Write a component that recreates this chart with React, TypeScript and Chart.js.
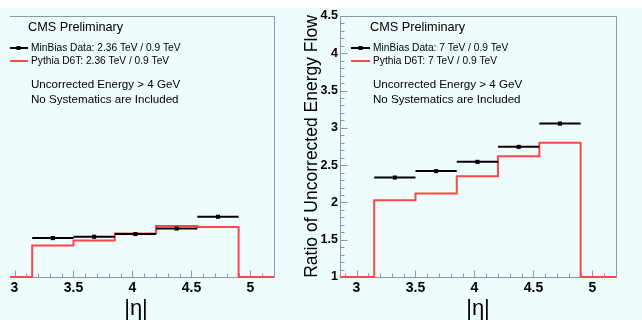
import React, { useEffect, useRef } from 'react';
import { Chart, registerables } from 'chart.js';

Chart.register(...registerables);

// ---------------- data ----------------
const binEdges = [3.15, 3.5, 3.85, 4.2, 4.55, 4.9];
const binCenters = [3.325, 3.675, 4.025, 4.375, 4.725];
const xTicks = [3, 3.5, 4, 4.5, 5];
const xTickLabels = ['3', '3.5', '4', '4.5', '5'];
const yTicks = [1, 1.5, 2, 2.5, 3, 3.5, 4, 4.5];
const yTickLabels = ['1', '1.5', '2', '2.5', '3', '3.5', '4', '4.5'];

const data236 = [1.522, 1.54, 1.576, 1.651, 1.808];
const pythia236 = [1.423, 1.49, 1.584, 1.683, 1.67];
const data7 = [2.334, 2.42, 2.544, 2.745, 3.057];
const pythia7 = [2.03, 2.12, 2.35, 2.62, 2.8];

const headerText = 'CMS Preliminary';
const legend236 = ['MinBias Data: 2.36 TeV / 0.9 TeV', 'Pythia D6T: 2.36 TeV / 0.9 TeV'];
const legend7 = ['MinBias Data: 7 TeV / 0.9 TeV', 'Pythia D6T: 7 TeV / 0.9 TeV'];
const noteLines = ['Uncorrected Energy > 4 GeV', 'No Systematics are Included'];
const xTitle = '|η|';
const yTitle = 'Ratio of Uncorrected Energy Flow';

const X_MIN = 2.86;
const X_MAX = 5.2;
const Y_MIN = 1;
const Y_MAX = 4.5;

// ---------------- style ----------------
const FONT = '"Liberation Sans", Arial, Helvetica, sans-serif';
const BG = '#eefcfd';
const FRAME = '#9494a4';
const RED = '#ff4646';
const BLACK = '#000000';

const framePlugin = {
  id: 'rootFrame',
  beforeDatasetsDraw(chart: any) {
    const { ctx, chartArea: a, scales } = chart;
    const x = scales.x;
    const y = scales.y;
    ctx.save();
    ctx.strokeStyle = FRAME;
    ctx.lineWidth = 1;
    const l = Math.round(a.left) + 0.5;
    const t = Math.round(a.top) + 0.5;
    const r = Math.round(a.right) + 0.5;
    const b = Math.round(a.bottom) + 0.5;
    ctx.beginPath();
    ctx.moveTo(l, b);
    ctx.lineTo(l, t);
    ctx.lineTo(r, t);
    ctx.lineTo(r, b);
    ctx.lineTo(l, b);
    for (let i = Math.ceil(X_MIN * 10 - 1e-6); i <= Math.floor(X_MAX * 10 + 1e-6); i++) {
      const px = Math.round(x.getPixelForValue(i / 10)) + 0.5;
      const len = i % 5 === 0 ? 7 : 4;
      ctx.moveTo(px, b);
      ctx.lineTo(px, b - len);
    }
    for (let i = Math.round(Y_MIN * 10); i <= Math.round(Y_MAX * 10); i++) {
      const py = Math.round(y.getPixelForValue(i / 10)) + 0.5;
      const len = i % 5 === 0 ? 7 : 4;
      ctx.moveTo(l, py);
      ctx.lineTo(l + len, py);
    }
    ctx.stroke();
    ctx.restore();
  },
};

const textPlugin = {
  id: 'rootText',
  afterDatasetsDraw(chart: any) {
    const opts = chart.options.plugins.rootText;
    if (!opts) return;
    const { ctx, chartArea: a } = chart;
    const L = a.left;
    const T = a.top;
    ctx.save();
    ctx.fillStyle = BLACK;
    ctx.textBaseline = 'middle';
    ctx.textAlign = 'left';
    ctx.font = `12.7px ${FONT}`;
    ctx.fillText(headerText, L + 30, T + 11.5);
    ctx.font = `10.2px ${FONT}`;
    ctx.fillText(opts.legend[0], L + 33, T + 31.7);
    ctx.fillText(opts.legend[1], L + 33, T + 45);
    ctx.font = `11.6px ${FONT}`;
    ctx.fillText(noteLines[0], L + 33, T + 68.3);
    ctx.fillText(noteLines[1], L + 33, T + 83.3);
    // legend samples
    ctx.lineWidth = 2;
    ctx.strokeStyle = BLACK;
    ctx.beginPath();
    ctx.moveTo(L + 11, Math.round(T + 31.7));
    ctx.lineTo(L + 30, Math.round(T + 31.7));
    ctx.stroke();
    ctx.fillRect(L + 18.5, Math.round(T + 31.7) - 2, 4, 4);
    ctx.strokeStyle = RED;
    ctx.beginPath();
    ctx.moveTo(L + 11, Math.round(T + 45));
    ctx.lineTo(L + 30, Math.round(T + 45));
    ctx.stroke();
    ctx.restore();
  },
};

type PanelProps = {
  dataVals: number[];
  mcVals: number[];
  legend: string[];
  style: React.CSSProperties;
};

function Panel({ dataVals, mcVals, legend, style }: PanelProps) {
  const ref = useRef<HTMLCanvasElement>(null);
  useEffect(() => {
    const canvas = ref.current;
    if (!canvas) return;
    const dataSegs: any[] = [];
    dataVals.forEach((v, i) => {
      dataSegs.push({ x: binEdges[i], y: v });
      dataSegs.push({ x: binEdges[i + 1], y: v });
      dataSegs.push({ x: binEdges[i + 1], y: null });
    });
    const centers = dataVals.map((v, i) => ({ x: binCenters[i], y: v }));
    const mcPts = [
      { x: X_MIN, y: Y_MIN },
      ...mcVals.map((v, i) => ({ x: binEdges[i], y: v })),
      { x: binEdges[binEdges.length - 1], y: Y_MIN },
      { x: X_MAX, y: Y_MIN },
    ];
    const chart = new Chart(canvas, {
      type: 'line',
      data: {
        datasets: [
          {
            data: centers,
            showLine: false,
            pointStyle: 'rect',
            pointRadius: 2.9,
            pointBackgroundColor: BLACK,
            pointBorderColor: BLACK,
            pointBorderWidth: 0,
            clip: false,
          } as any,
          {
            data: dataSegs,
            borderColor: BLACK,
            borderWidth: 2,
            pointRadius: 0,
            spanGaps: false,
            clip: false,
          },
          {
            data: mcPts,
            borderColor: RED,
            borderWidth: 2,
            pointRadius: 0,
            stepped: true,
            clip: false,
          },
        ],
      },
      options: {
        animation: false,
        responsive: false,
        maintainAspectRatio: false,
        devicePixelRatio: 1,
        events: [],
        layout: { padding: { top: 16, right: 26, left: 0, bottom: 0 } },
        plugins: {
          legend: { display: false },
          tooltip: { enabled: false },
          rootText: { legend },
        } as any,
        scales: {
          x: {
            type: 'linear',
            min: X_MIN,
            max: X_MAX,
            grid: { display: false, drawTicks: false },
            border: { display: false },
            afterBuildTicks: (s: any) => {
              s.ticks = xTicks.map((v) => ({ value: v }));
            },
            afterFit: (s: any) => {
              s.height = 43;
            },
            ticks: {
              autoSkip: false,
              maxRotation: 0,
              padding: 3,
              color: BLACK,
              font: { family: FONT, size: 14, weight: 'bold' },
              callback: (v: any) => {
                const k = xTicks.indexOf(Number(v));
                return k >= 0 ? xTickLabels[k] : '';
              },
            },
            title: {
              display: true,
              text: xTitle,
              color: BLACK,
              font: { family: FONT, size: 22, lineHeight: 1 },
              padding: { top: 0, bottom: 0 },
            },
          },
          y: {
            type: 'linear',
            min: Y_MIN,
            max: Y_MAX,
            grid: { display: false, drawTicks: false },
            border: { display: false },
            afterBuildTicks: (s: any) => {
              s.ticks = yTicks.map((v) => ({ value: v }));
            },
            afterFit: (s: any) => {
              s.width = 40;
            },
            ticks: {
              autoSkip: false,
              padding: 2,
              color: BLACK,
              font: { family: FONT, size: 12.5, weight: 'bold' },
              callback: (v: any) => {
                const k = yTicks.indexOf(Number(v));
                return k >= 0 ? yTickLabels[k] : '';
              },
            },
            title: {
              display: true,
              text: yTitle,
              color: BLACK,
              font: { family: FONT, size: 17.5, lineHeight: 1.2 },
              padding: { top: 1.5, bottom: 0 },
            },
          },
        },
      },
      plugins: [framePlugin, textPlugin],
    } as any);
    return () => chart.destroy();
  }, [dataVals, mcVals, legend]);
  return <canvas ref={ref} width={342} height={320} style={{ position: 'absolute', width: 342, height: 320, ...style }} />;
}

export default function App() {
  return (
    <div
      style={{
        position: 'fixed',
        left: 0,
        top: 0,
        width: 642,
        height: 320,
        background: BG,
        overflow: 'hidden',
      }}
    >
      <div style={{ position: 'absolute', left: 0, top: 0, width: 642, height: 8, background: '#ffffff' }} />
      <div style={{ position: 'absolute', left: 10, top: 0, width: 290, height: 320, overflow: 'hidden' }}>
        <Panel dataVals={data236} mcVals={pythia236} legend={legend236} style={{ left: -52, top: 0 }} />
      </div>
      <Panel dataVals={data7} mcVals={pythia7} legend={legend7} style={{ left: 300, top: 0 }} />
    </div>
  );
}
